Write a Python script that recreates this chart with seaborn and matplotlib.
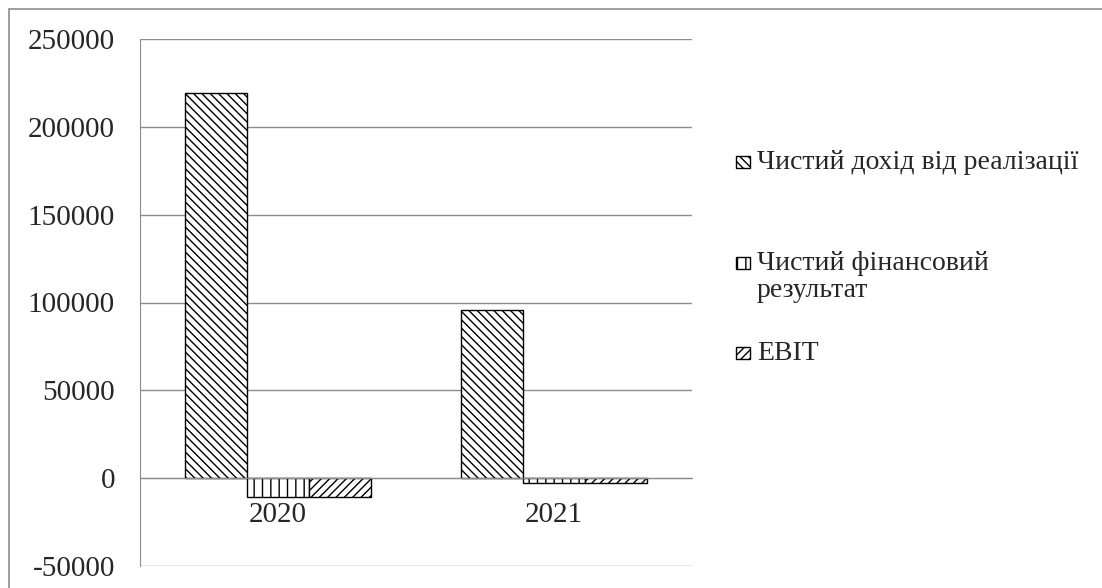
import matplotlib
matplotlib.use("Agg")
import matplotlib.pyplot as plt
import seaborn as sns
import pandas as pd
from matplotlib.patches import Rectangle

# data
years = ["2020", "2021"]
series = ["Чистий дохід від реалізації", "Чистий фінансовий результат", "EBIT"]
legend_labels = ["Чистий дохід від реалізації", "Чистий фінансовий\nрезультат", "EBIT"]
revenue = [219300, 95600]
net_result = [-10800, -2900]
ebit = [-10500, -2900]

df = pd.DataFrame({
    "year": years * 3,
    "series": [series[0]] * 2 + [series[1]] * 2 + [series[2]] * 2,
    "value": revenue + net_result + ebit,
})

sns.set_style("white")
plt.rcParams["font.family"] = ["Liberation Serif", "DejaVu Serif"]
plt.rcParams["axes.unicode_minus"] = False
plt.rcParams["hatch.linewidth"] = 1.0
plt.rcParams["hatch.color"] = "black"

W, H = 1102, 588
fig = plt.figure(figsize=(W / 100, H / 100), dpi=100)
ax = fig.add_axes([140 / W, 22 / H, 552 / W, 527 / H])

sns.barplot(data=df, x="year", y="value", hue="series", hue_order=series,
            order=years, palette=["white"] * 3, edgecolor="black", linewidth=1.0,
            width=0.674, gap=0, ax=ax, legend=False)

hatches = ["\\\\\\\\", "||", "////"]
for cont, h in zip(ax.containers, hatches):
    for bar in cont:
        bar.set_hatch(h)

ax.set_ylim(-50000, 250000)
ax.set_xlim(-0.5, 1.5)
ax.set_yticks(range(-50000, 250001, 50000))
ax.yaxis.grid(True, color="#8c8c8c", linewidth=1.0)
ax.set_axisbelow(True)
ax.set_xlabel("")
ax.set_ylabel("")

for s in ["top", "right"]:
    ax.spines[s].set_visible(False)
ax.spines["left"].set_color("#8c8c8c")
ax.spines["bottom"].set_color("#8c8c8c")
ax.spines["bottom"].set_position(("data", 0))
ax.spines["bottom"].set_zorder(3)

ax.tick_params(axis="y", length=10, color="#8c8c8c", labelsize=21, pad=8)
ax.set_xticks([-0.5, 0.5, 1.5], minor=True)
ax.tick_params(axis="x", which="minor", length=7, color="#8c8c8c", direction="out")
ax.tick_params(axis="x", which="major", length=0, labelsize=21, pad=17)

# legend on the right, drawn by hand so the swatch sits on the first text line
baselines = [171, 272, 362]
for h, lab, base in zip(hatches, legend_labels, baselines):
    fig.patches.append(Rectangle((736 / W, 1 - (base - 3) / H), 14 / W, 12 / H,
                                 transform=fig.transFigure, facecolor="white",
                                 edgecolor="black", linewidth=1.0, hatch=h))
    fig.text(757 / W, 1 - (base - 21) / H, lab, fontsize=20, va="top", ha="left",
             linespacing=1.12)

fig.patches.append(Rectangle((9 / W, -0.1), 1.2, 1.1 - 9 / H, transform=fig.transFigure,
                             fill=False, edgecolor="#8c8c8c", linewidth=1.2))

fig.savefig("out.png", dpi=100)
